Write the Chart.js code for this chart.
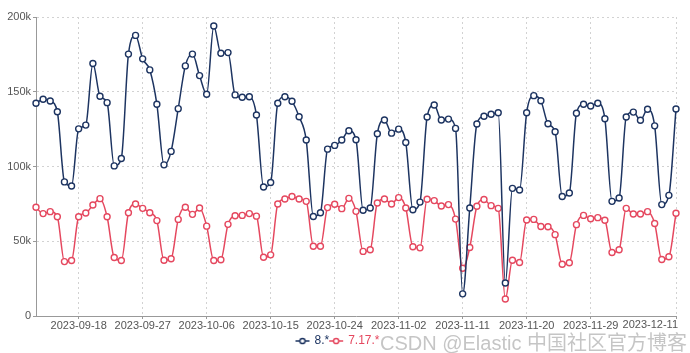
<!DOCTYPE html>
<html>
<head>
<meta charset="utf-8">
<script src="https://cdn.jsdelivr.net/npm/chart.js@4"></script>
<style>
  html,body{margin:0;padding:0;background:#fff;}
  #wrap{position:relative;width:690px;height:353px;}
  #wm{position:absolute;left:380px;top:327px;font-family:"Liberation Sans",Arial,sans-serif;font-size:20px;color:rgba(150,150,150,0.55);white-space:nowrap;pointer-events:none;}
  #wm span{font-family:"Noto Sans CJK SC",sans-serif;}
</style>
</head>
<body>
<div id="wrap">
<canvas id="c" width="690" height="353"></canvas>
<div id="wm">CSDN @Elastic <span>中国社区官方博客</span></div>
</div>
<script>
const categories = [
 '2023-09-12','2023-09-13','2023-09-14','2023-09-15','2023-09-16','2023-09-17','2023-09-18','2023-09-19','2023-09-20','2023-09-21',
 '2023-09-22','2023-09-23','2023-09-24','2023-09-25','2023-09-26','2023-09-27','2023-09-28','2023-09-29','2023-09-30','2023-10-01',
 '2023-10-02','2023-10-03','2023-10-04','2023-10-05','2023-10-06','2023-10-07','2023-10-08','2023-10-09','2023-10-10','2023-10-11',
 '2023-10-12','2023-10-13','2023-10-14','2023-10-15','2023-10-16','2023-10-17','2023-10-18','2023-10-19','2023-10-20','2023-10-21',
 '2023-10-22','2023-10-23','2023-10-24','2023-10-25','2023-10-26','2023-10-27','2023-10-28','2023-10-29','2023-10-30','2023-10-31',
 '2023-11-01','2023-11-02','2023-11-03','2023-11-04','2023-11-05','2023-11-06','2023-11-07','2023-11-08','2023-11-09','2023-11-10',
 '2023-11-11','2023-11-12','2023-11-13','2023-11-14','2023-11-15','2023-11-16','2023-11-17','2023-11-18','2023-11-19','2023-11-20',
 '2023-11-21','2023-11-22','2023-11-23','2023-11-24','2023-11-25','2023-11-26','2023-11-27','2023-11-28','2023-11-29','2023-11-30',
 '2023-12-01','2023-12-02','2023-12-03','2023-12-04','2023-12-05','2023-12-06','2023-12-07','2023-12-08','2023-12-09','2023-12-10',
 '2023-12-11'
];
const tickLabels = ['2023-09-18','2023-09-27','2023-10-06','2023-10-15','2023-10-24','2023-11-02','2023-11-11','2023-11-20','2023-11-29','2023-12-11'];
const yTicks = [0, 50000, 100000, 150000, 200000];

const series8 = [
 142300,145000,143800,136600,89700,87000,125200,127700,168900,147000,
 142700,100400,105400,175200,187700,172000,164600,141600,101100,110100,
 138700,167300,175200,160800,148300,194000,175800,176200,147900,146300,
 146700,134400,86300,89300,142300,146700,143600,133300,117700,66600,
 69100,111600,114100,117700,123900,117900,70700,72200,121900,131100,
 122300,125000,116100,71100,76200,133100,141100,131100,131700,125500,
 14800,72200,128400,133600,134900,136000,22100,85400,84300,136000,
 147400,144000,128600,123200,79900,82300,135600,141600,140500,142300,
 131900,76700,78900,133100,136400,130900,138300,127200,74500,80700,
 138500
];
const series717 = [
 72700,68500,69800,66400,36400,37100,66400,68900,74200,78500,
 66400,39100,37100,69100,74900,72000,69100,63800,37300,38300,
 64600,72700,68000,72200,60100,37100,37600,61300,67100,67300,
 68500,66800,39300,40900,74900,78300,79900,78300,76700,46700,
 46700,72500,74700,71800,78700,70000,43200,44300,75600,78300,
 74900,79200,72200,46300,45600,78100,77200,73600,74500,64800,
 31900,45800,73400,77900,73800,72000,11400,37300,35800,64200,
 64600,59900,59700,54400,34600,35600,61100,67300,65100,65800,
 64000,42500,44300,72000,68200,68200,69800,61900,37800,39600,
 68700
];
const seriesNames = ['8.*', '7.17.*'];
const seriesColors = ['#1d3461', '#e5485f'];
const tickFont = '11px "Liberation Sans", Arial, sans-serif';
const lastIndex = categories.length - 1;

function legendIcon(color){
  const cv = document.createElement('canvas');
  cv.width = 16; cv.height = 8;
  const g = cv.getContext('2d');
  g.strokeStyle = color; g.lineWidth = 1.5;
  g.beginPath(); g.moveTo(1,4); g.lineTo(15,4); g.stroke();
  g.fillStyle = '#fff';
  g.beginPath(); g.arc(8,4,2.6,0,Math.PI*2); g.fill(); g.stroke();
  return cv;
}

const mkDs = (i, data) => ({
  label: seriesNames[i],
  data: data,
  borderColor: seriesColors[i],
  backgroundColor: '#fff',
  borderWidth: 1.5,
  pointRadius: 3,
  pointBorderWidth: 1.4,
  pointBackgroundColor: '#fff',
  pointBorderColor: seriesColors[i],
  cubicInterpolationMode: 'monotone',
  fill: false
});

// last x tick label is kept inside the plot (right-aligned to its gridline)
const lastLabelPlugin = {
  id: 'lastLabel',
  afterDraw(chart){
    const s = chart.scales.x;
    const ctx = chart.ctx;
    ctx.save();
    ctx.font = tickFont;
    ctx.fillStyle = '#555';
    ctx.textAlign = 'right';
    ctx.textBaseline = 'top';
    ctx.fillText(categories[lastIndex], s.getPixelForValue(lastIndex) + 2, s.top + 3);
    ctx.restore();
  }
};

new Chart(document.getElementById('c'), {
  type: 'line',
  data: { labels: categories, datasets: [mkDs(0, series8), mkDs(1, series717)] },
  plugins: [lastLabelPlugin],
  options: {
    responsive: false,
    animation: false,
    layout: { padding: { top: 17, right: 14, left: 0, bottom: -4 } },
    plugins: {
      tooltip: { enabled: false },
      legend: {
        position: 'bottom',
        labels: {
          usePointStyle: true,
          padding: 1,
          font: { family: '"Liberation Sans", Arial, sans-serif', size: 12 },
          generateLabels(chart){
            return chart.data.datasets.map((d, i) => ({
              text: d.label,
              fontColor: seriesColors[i],
              pointStyle: legendIcon(seriesColors[i]),
              strokeStyle: seriesColors[i],
              fillStyle: '#fff',
              lineWidth: 0,
              datasetIndex: i,
              hidden: false
            }));
          }
        }
      }
    },
    scales: {
      x: {
        type: 'category',
        offset: false,
        afterFit(s){ s.height = 18; s.paddingRight = 0; s.paddingLeft = 0; },
        afterBuildTicks(s){
          s.ticks = s.ticks.filter(t => tickLabels.includes(categories[t.value]));
        },
        ticks: {
          autoSkip: false, maxRotation: 0, padding: 0,
          color: '#555',
          font: { family: '"Liberation Sans", Arial, sans-serif', size: 11 },
          callback(v){ return v === lastIndex ? '' : categories[v]; }
        },
        grid: { color: '#d2d2d2', tickLength: 3, tickColor: '#999', tickBorderDash: [] },
        border: { display: true, color: '#999', width: 1, dash: [2,3] }
      },
      y: {
        min: 0, max: 200000,
        afterFit(s){ s.width = 36; },
        afterBuildTicks(s){ s.ticks = yTicks.map(v => ({ value: v })); },
        ticks: {
          padding: 2,
          color: '#555',
          font: { family: '"Liberation Sans", Arial, sans-serif', size: 11 },
          callback(v){ return v === 0 ? '0' : (v/1000) + 'k'; }
        },
        grid: { color: '#d2d2d2', tickLength: 3, tickColor: '#999', tickBorderDash: [] },
        border: { display: true, color: '#999', width: 1, dash: [2,3] }
      }
    }
  }
});
</script>
</body>
</html>
